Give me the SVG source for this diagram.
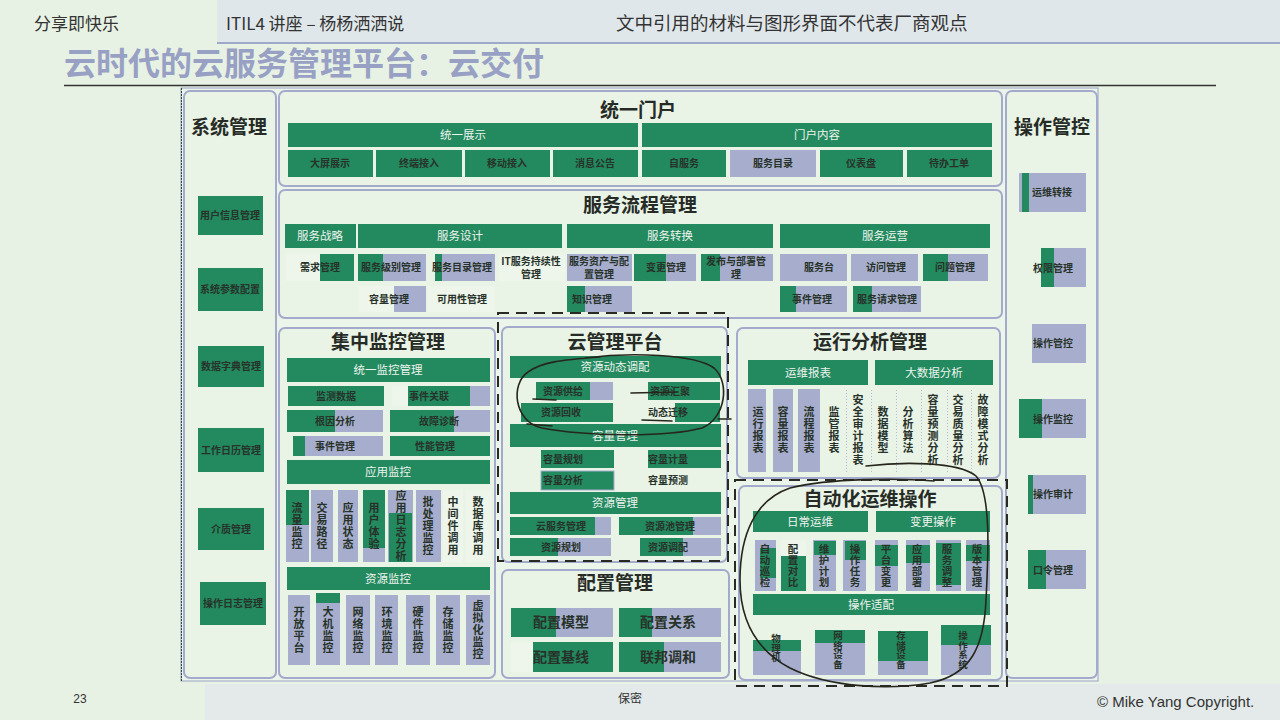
<svg xmlns="http://www.w3.org/2000/svg" width="1280" height="720" viewBox="0 0 1280 720">
<defs>
<style>
.g{fill:#23895e}
.b{fill:#a7aecd}
.l{fill:#eef6ec}
.pn{fill:#e9f3e6;stroke:#a3aacb;stroke-width:2}
.t{font-family:"Noto Sans CJK SC",sans-serif;font-weight:700;font-size:10px;fill:#27322a;text-anchor:middle}
.h{font-family:"Noto Sans CJK SC",sans-serif;font-size:11.5px;fill:#eef4ee;text-anchor:middle}
.pt{font-family:"Noto Sans CJK SC",sans-serif;font-weight:700;font-size:19px;fill:#262b26;text-anchor:middle}
.v{font-family:"Noto Sans CJK SC",sans-serif;font-weight:700;font-size:11px;letter-spacing:1px;fill:#27322a;text-anchor:middle;writing-mode:vertical-rl}
.vs{font-family:"Noto Sans CJK SC",sans-serif;font-weight:700;font-size:10.5px;letter-spacing:0.5px;fill:#27322a;text-anchor:middle;writing-mode:vertical-rl}
.vx{font-family:"Noto Sans CJK SC",sans-serif;font-weight:700;font-size:9.5px;fill:#27322a;text-anchor:middle;writing-mode:vertical-rl}
.c{font-family:"Noto Sans CJK SC",sans-serif;font-weight:700;font-size:14px;fill:#27322a;text-anchor:middle}
.dash{fill:none;stroke:#2a2a24;stroke-width:2;stroke-dasharray:11 7}
.ink{fill:none;stroke:#26261c;stroke-width:1.6;stroke-linecap:round;stroke-linejoin:round}
.sep{stroke:#b4bad6;stroke-width:1;stroke-dasharray:1 2}
</style>
</defs>

<!-- page -->
<rect width="1280" height="720" fill="#e8f2e4"/>
<rect x="217" y="0" width="1063" height="43" fill="#e0e7ea"/>
<line x1="217" y1="43" x2="1280" y2="43" stroke="#9ea8c8" stroke-width="2"/>
<rect x="205" y="684" width="1075" height="36" fill="#e3eae9"/>
<text x="34" y="30" font-family="Noto Sans CJK SC, sans-serif" font-size="17" fill="#333">分享即快乐</text>
<text x="226" y="30" font-family="Noto Sans CJK SC, sans-serif" font-size="17" fill="#333">ITIL4 讲座 – 杨杨洒洒说</text>
<text x="616" y="30" font-family="Noto Sans CJK SC, sans-serif" font-size="18.5" fill="#333">文中引用的材料与图形界面不代表厂商观点</text>
<text x="64" y="75" font-family="Noto Sans CJK SC, sans-serif" font-weight="700" font-size="32" fill="#98a1c4">云时代的云服务管理平台：云交付</text>
<line x1="64" y1="85.5" x2="1216" y2="85.5" stroke="#333" stroke-width="1.5"/>
<text x="80" y="703" font-family="Liberation Sans, sans-serif" font-size="12" fill="#333" text-anchor="middle">23</text>
<text x="630" y="703" font-family="Noto Sans CJK SC, sans-serif" font-size="12" fill="#333" text-anchor="middle">保密</text>
<text x="1097" y="707" font-family="Liberation Sans, sans-serif" font-size="15" fill="#333">© Mike Yang Copyright.</text>

<!-- outer frame -->
<rect x="181" y="88" width="917" height="593" fill="#ecf5ea" stroke="#9aa3c5" stroke-width="1"/>
<line x1="181.5" y1="88" x2="181.5" y2="681" stroke="#2f4a38" stroke-width="1" stroke-dasharray="2 1"/>

<!-- 系统管理 -->
<g id="sys-mgmt">
<rect class="pn" x="184" y="91" width="92" height="587" rx="6"/>
<text class="pt" x="229" y="134">系统管理</text>
<rect class="g" x="198" y="196" width="65" height="39"/><text class="t" x="230" y="219">用户信息管理</text>
<rect class="g" x="198" y="268" width="65" height="43"/><text class="t" x="230" y="293">系统参数配置</text>
<rect class="g" x="198" y="346" width="66" height="41"/><text class="t" x="231" y="370">数据字典管理</text>
<rect class="g" x="198" y="428" width="66" height="44"/><text class="t" x="231" y="454">工作日历管理</text>
<rect class="g" x="198" y="508" width="66" height="42"/><text class="t" x="231" y="533">介质管理</text>
<rect class="g" x="200" y="582" width="66" height="43"/><text class="t" x="233" y="607">操作日志管理</text>
</g>

<!-- 操作管控 -->
<g id="op-control">
<rect class="pn" x="1006" y="91" width="91" height="587" rx="6"/>
<text class="pt" x="1052" y="134">操作管控</text>
<rect class="b" x="1019" y="173" width="67" height="39"/><rect class="g" x="1022" y="173" width="7" height="39"/><text class="t" x="1052" y="196">运维转接</text>
<rect class="b" x="1041" y="248" width="45" height="39"/><rect class="g" x="1041" y="248" width="13" height="39"/><text class="t" x="1053" y="272">权限管理</text>
<rect class="b" x="1032" y="324" width="54" height="39"/><text class="t" x="1053" y="347">操作管控</text>
<rect class="b" x="1019" y="399" width="67" height="39"/><rect class="g" x="1019" y="399" width="23" height="39"/><text class="t" x="1053" y="423">操作监控</text>
<rect class="b" x="1028" y="475" width="58" height="39"/><rect class="g" x="1028" y="475" width="5" height="39"/><text class="t" x="1053" y="498">操作审计</text>
<rect class="b" x="1028" y="550" width="58" height="39"/><rect class="g" x="1028" y="550" width="18" height="39"/><text class="t" x="1053" y="574">口令管理</text>
</g>

<!-- 统一门户 -->
<g id="portal">
<rect class="pn" x="279" y="91" width="723" height="95" rx="6"/>
<text class="pt" x="638" y="117">统一门户</text>
<rect class="g" x="288" y="123" width="350" height="24"/><text class="h" x="463" y="139">统一展示</text>
<rect class="g" x="642" y="123" width="350" height="24"/><text class="h" x="817" y="139">门户内容</text>
<rect class="g" x="288" y="150" width="85" height="27"/><text class="t" x="330" y="167">大屏展示</text>
<rect class="g" x="376" y="150" width="86" height="27"/><text class="t" x="419" y="167">终端接入</text>
<rect class="g" x="465" y="150" width="85" height="27"/><text class="t" x="507" y="167">移动接入</text>
<rect class="g" x="553" y="150" width="85" height="27"/><text class="t" x="595" y="167">消息公告</text>
<rect class="g" x="642" y="150" width="84" height="27"/><text class="t" x="684" y="167">自服务</text>
<rect class="b" x="730" y="150" width="86" height="27"/><text class="t" x="773" y="167">服务目录</text>
<rect class="g" x="820" y="150" width="83" height="27"/><text class="t" x="861" y="167">仪表盘</text>
<rect class="g" x="907" y="150" width="85" height="27"/><text class="t" x="949" y="167">待办工单</text>
</g>

<!-- 服务流程管理 -->
<g id="service-process">
<rect class="pn" x="279" y="190" width="723" height="128" rx="6"/>
<text class="pt" x="640" y="212">服务流程管理</text>
<rect class="g" x="285" y="224" width="71" height="24"/><text class="h" x="320" y="240">服务战略</text>
<rect class="g" x="358" y="224" width="204" height="24"/><text class="h" x="460" y="240">服务设计</text>
<rect class="g" x="567" y="224" width="206" height="24"/><text class="h" x="670" y="240">服务转换</text>
<rect class="g" x="780" y="224" width="210" height="24"/><text class="h" x="885" y="240">服务运营</text>

<rect class="l" x="286" y="254" width="34" height="27"/><rect class="g" x="320" y="254" width="34" height="27"/><text class="t" x="320" y="271">需求管理</text>
<rect class="b" x="358" y="254" width="68" height="27"/><rect class="g" x="358" y="254" width="25" height="27"/><text class="t" x="391" y="271">服务级别管理</text>
<rect class="b" x="435" y="254" width="60" height="27"/><rect class="g" x="435" y="254" width="7" height="27"/><text class="t" x="462" y="271">服务目录管理</text>
<rect class="l" x="499" y="254" width="66" height="27"/><text class="t" x="531" y="265">IT服务持续性</text><text class="t" x="531" y="278">管理</text>
<rect class="b" x="567" y="254" width="65" height="27"/><text class="t" x="599" y="265">服务资产与配</text><text class="t" x="599" y="278">置管理</text>
<rect class="b" x="634" y="254" width="62" height="27"/><rect class="g" x="634" y="254" width="32" height="27"/><text class="t" x="666" y="271">变更管理</text>
<rect class="b" x="701" y="254" width="72" height="27"/><rect class="g" x="701" y="254" width="19" height="27"/><text class="t" x="736" y="265">发布与部署管</text><text class="t" x="736" y="278">理</text>
<rect class="b" x="780" y="254" width="67" height="27"/><text class="t" x="819" y="271">服务台</text>
<rect class="b" x="851" y="254" width="67" height="27"/><text class="t" x="886" y="271">访问管理</text>
<rect class="b" x="923" y="254" width="65" height="27"/><rect class="g" x="923" y="254" width="25" height="27"/><text class="t" x="955" y="271">问题管理</text>

<rect class="l" x="359" y="286" width="35" height="26"/><rect class="b" x="394" y="286" width="32" height="26"/><text class="t" x="389" y="303">容量管理</text>
<rect class="l" x="428" y="286" width="67" height="26"/><text class="t" x="462" y="303">可用性管理</text>
<rect class="b" x="567" y="286" width="65" height="26"/><rect class="g" x="567" y="286" width="18" height="26"/><text class="t" x="592" y="303">知识管理</text>
<rect class="b" x="780" y="286" width="67" height="26"/><rect class="g" x="780" y="286" width="16" height="26"/><text class="t" x="812" y="303">事件管理</text>
<rect class="b" x="853" y="286" width="68" height="26"/><rect class="g" x="853" y="286" width="19" height="26"/><text class="t" x="887" y="303">服务请求管理</text>
</g>

<!-- 集中监控管理 -->
<g id="monitoring">
<rect class="pn" x="279" y="328" width="216" height="350" rx="6"/>
<text class="pt" x="388" y="349">集中监控管理</text>
<rect class="g" x="287" y="358" width="203" height="24"/><text class="h" x="388" y="374">统一监控管理</text>
<rect class="g" x="288" y="386" width="96" height="20"/><text class="t" x="336" y="400">监测数据</text>
<rect class="l" x="392" y="386" width="16" height="20"/><rect class="g" x="408" y="386" width="62" height="20"/><rect class="b" x="470" y="386" width="20" height="20"/><text class="t" x="429" y="400">事件关联</text>
<rect class="b" x="287" y="410" width="96" height="22"/><rect class="g" x="287" y="410" width="48" height="22"/><text class="t" x="335" y="425">根因分析</text>
<rect class="b" x="390" y="410" width="100" height="22"/><rect class="g" x="390" y="410" width="64" height="22"/><text class="t" x="439" y="425">故障诊断</text>
<rect class="b" x="293" y="436" width="90" height="20"/><rect class="g" x="293" y="436" width="12" height="20"/><text class="t" x="335" y="450">事件管理</text>
<rect class="g" x="390" y="436" width="100" height="20"/><text class="t" x="435" y="450">性能管理</text>
<rect class="g" x="287" y="460" width="203" height="24"/><text class="h" x="388" y="476">应用监控</text>

<rect class="b" x="286" y="490" width="23" height="72"/><rect class="g" x="286" y="490" width="23" height="35"/><text class="v" x="297" y="526">流量监控</text>
<rect class="b" x="311" y="490" width="22" height="72"/><text class="v" x="322" y="526">交易路径</text>
<rect class="b" x="338" y="490" width="20" height="72"/><text class="v" x="348" y="526">应用状态</text>
<rect class="b" x="363" y="490" width="22" height="72"/><rect class="g" x="363" y="490" width="22" height="58"/><text class="v" x="374" y="526">用户体验</text>
<rect class="b" x="388" y="490" width="25" height="72"/><rect class="g" x="389" y="513" width="23" height="49"/><text class="v" x="401" y="526">应用日志分析</text>
<rect class="b" x="416" y="490" width="25" height="72"/><text class="v" x="428" y="526">批处理监控</text>
<rect class="l" x="443" y="490" width="20" height="72"/><text class="v" x="453" y="526">中间件调用</text>
<rect class="l" x="466" y="490" width="25" height="72"/><text class="v" x="478" y="526">数据库调用</text>

<rect class="g" x="287" y="567" width="203" height="23"/><text class="h" x="388" y="583">资源监控</text>
<rect class="b" x="288" y="595" width="22" height="70"/><text class="v" x="299" y="630">开放平台</text>
<rect class="b" x="316" y="595" width="24" height="70"/><rect class="g" x="316" y="593" width="24" height="10"/><text class="v" x="328" y="630">大机监控</text>
<rect class="b" x="346" y="595" width="24" height="70"/><text class="v" x="358" y="630">网络监控</text>
<rect class="b" x="375" y="595" width="23" height="70"/><text class="v" x="387" y="630">环境监控</text>
<rect class="b" x="406" y="595" width="24" height="70"/><text class="v" x="418" y="630">硬件监控</text>
<rect class="b" x="436" y="595" width="24" height="70"/><text class="v" x="448" y="630">存储监控</text>
<rect class="b" x="466" y="595" width="24" height="70"/><text class="v" x="478" y="630">虚拟化监控</text>
</g>

<!-- 云管理平台 -->
<g id="cloud-platform">
<rect class="pn" x="502" y="327" width="225" height="235" rx="6"/>
<text class="pt" x="615" y="349">云管理平台</text>
<rect class="g" x="510" y="356" width="211" height="22"/><text class="h" x="615" y="371">资源动态调配</text>
<rect class="b" x="536" y="382" width="77" height="18"/><rect class="g" x="536" y="382" width="54" height="18"/><text class="t" x="563" y="395">资源供给</text>
<rect class="g" x="648" y="382" width="72" height="18"/><text class="t" x="670" y="395">资源汇聚</text>
<rect class="g" x="521" y="403" width="92" height="19"/><text class="t" x="561" y="416">资源回收</text>
<rect class="g" x="675" y="403" width="45" height="19"/><text class="t" x="668" y="416">动态迁移</text>
<rect class="g" x="510" y="424" width="211" height="23"/><text class="h" x="615" y="440">容量管理</text>
<rect class="g" x="541" y="450" width="73" height="18"/><text class="t" x="563" y="463">容量规划</text>
<rect class="g" x="648" y="450" width="73" height="18"/><text class="t" x="668" y="463">容量计量</text>
<rect class="g" x="541" y="471" width="73" height="19" stroke="#a7aecd" stroke-width="1"/><text class="t" x="563" y="484">容量分析</text>
<text class="t" x="668" y="484">容量预测</text>
<rect class="g" x="510" y="492" width="211" height="22"/><text class="h" x="615" y="507">资源管理</text>
<rect class="b" x="510" y="517" width="101" height="18"/><rect class="g" x="510" y="517" width="85" height="18"/><text class="t" x="561" y="530">云服务管理</text>
<rect class="b" x="619" y="517" width="102" height="18"/><rect class="g" x="619" y="517" width="74" height="18"/><text class="t" x="670" y="530">资源池管理</text>
<rect class="b" x="510" y="538" width="101" height="18"/><rect class="g" x="510" y="538" width="48" height="18"/><text class="t" x="561" y="551">资源规划</text>
<rect class="b" x="640" y="538" width="81" height="18"/><rect class="g" x="640" y="538" width="43" height="18"/><text class="t" x="668" y="551">资源调配</text>
</g>

<!-- 配置管理 -->
<g id="config-mgmt">
<rect class="pn" x="502" y="570" width="227" height="108" rx="6"/>
<text class="pt" x="615" y="590">配置管理</text>
<rect class="b" x="511" y="608" width="102" height="29"/><rect class="g" x="511" y="608" width="45" height="29"/><text class="c" x="561" y="627">配置模型</text>
<rect class="b" x="619" y="608" width="102" height="29"/><rect class="g" x="619" y="608" width="33" height="29"/><text class="c" x="668" y="627">配置关系</text>
<rect class="l" x="511" y="642" width="22" height="30"/><rect class="g" x="533" y="642" width="80" height="30"/><text class="c" x="561" y="662">配置基线</text>
<rect class="b" x="619" y="642" width="102" height="30"/><rect class="g" x="619" y="642" width="45" height="30"/><text class="c" x="668" y="662">联邦调和</text>
</g>

<!-- 运行分析管理 -->
<g id="run-analysis">
<rect class="pn" x="737" y="328" width="263" height="150" rx="6"/>
<text class="pt" x="870" y="349">运行分析管理</text>
<rect class="g" x="748" y="360" width="120" height="25"/><text class="h" x="808" y="377">运维报表</text>
<rect class="g" x="875" y="360" width="118" height="25"/><text class="h" x="934" y="377">大数据分析</text>
<rect class="b" x="748" y="389" width="18" height="83"/>
<rect class="b" x="773" y="389" width="20" height="83"/>
<rect class="b" x="798" y="389" width="22" height="83"/>
<line class="sep" x1="846.5" y1="390" x2="846.5" y2="472"/>
<line class="sep" x1="871.5" y1="390" x2="871.5" y2="472"/>
<line class="sep" x1="896.5" y1="390" x2="896.5" y2="472"/>
<line class="sep" x1="921.5" y1="390" x2="921.5" y2="472"/>
<line class="sep" x1="947.5" y1="390" x2="947.5" y2="472"/>
<line class="sep" x1="971.5" y1="390" x2="971.5" y2="472"/>
<text class="v" x="758" y="430">运行报表</text>
<text class="v" x="783" y="430">容量报表</text>
<text class="v" x="809" y="430">流程报表</text>
<text class="v" x="834" y="430">监管报表</text>
<text class="v" x="858" y="430">安全审计报表</text>
<text class="v" x="883" y="430">数据模型</text>
<text class="v" x="908" y="430">分析算法</text>
<text class="v" x="933" y="430">容量预测分析</text>
<text class="v" x="958" y="430">交易质量分析</text>
<text class="v" x="983" y="430">故障模式分析</text>
</g>

<!-- 自动化运维操作 -->
<g id="automation">
<rect class="pn" x="739" y="486" width="263" height="194" rx="6"/>
<text class="pt" x="870" y="506">自动化运维操作</text>
<rect class="g" x="753" y="511" width="115" height="21"/><text class="h" x="810" y="526">日常运维</text>
<rect class="g" x="876" y="511" width="114" height="21"/><text class="h" x="933" y="526">变更操作</text>
<rect class="b" x="755" y="540" width="21" height="51"/><rect class="g" x="760" y="548" width="16" height="30"/><text class="vs" x="765" y="566">自动巡检</text>
<rect class="l" x="781" y="540" width="25" height="16"/><rect class="g" x="781" y="556" width="25" height="35"/><text class="vs" x="793" y="566">配置对比</text>
<rect class="b" x="813" y="540" width="23" height="51"/><rect class="g" x="814" y="541" width="22" height="14"/><text class="vs" x="824" y="566">维护计划</text>
<rect class="b" x="843" y="540" width="23" height="51"/><rect class="g" x="845" y="541" width="21" height="19"/><text class="vs" x="855" y="566">操作任务</text>
<rect class="b" x="875" y="540" width="23" height="51"/><rect class="g" x="875" y="545" width="23" height="21"/><text class="vs" x="886" y="566">平台变更</text>
<rect class="b" x="906" y="540" width="24" height="51"/><rect class="g" x="906" y="545" width="24" height="18"/><text class="vs" x="917" y="566">应用部署</text>
<rect class="b" x="936" y="540" width="25" height="51"/><rect class="g" x="936" y="543" width="25" height="42"/><text class="vs" x="947" y="566">服务调整</text>
<rect class="b" x="966" y="540" width="24" height="51"/><rect class="g" x="966" y="545" width="24" height="16"/><text class="vs" x="977" y="566">版本管理</text>
<rect class="g" x="753" y="594" width="237" height="21"/><text class="h" x="871" y="609">操作适配</text>
<rect class="b" x="753" y="651" width="48" height="24"/><rect class="g" x="753" y="640" width="48" height="11"/><text class="vx" x="776" y="648">物理机</text>
<rect class="b" x="815" y="630" width="50" height="45"/><rect class="g" x="815" y="630" width="50" height="13"/><text class="vx" x="838" y="650">网络设备</text>
<rect class="b" x="878" y="631" width="50" height="44"/><rect class="g" x="878" y="631" width="50" height="30"/><text class="vx" x="901" y="650">存储设备</text>
<rect class="b" x="941" y="625" width="50" height="50"/><rect class="g" x="941" y="625" width="50" height="20"/><text class="vx" x="963" y="650">操作系统</text>
</g>

<!-- dashed groupings and hand-drawn annotations -->
<g id="connectors">
<rect class="dash" x="498" y="313" width="230" height="248"/>
<rect class="dash" x="735" y="480" width="272" height="206"/>
<path class="ink" d="M585,358 C630,352 695,354 714,368 C730,382 726,418 702,428 C664,438 584,436 542,428 C514,422 510,384 528,372 C542,362 560,360 600,357"/>
<path class="ink" d="M533,399 L556,400 M631,393 L678,392 M642,420 L672,421 M718,419 L731,419 M527,424 L552,426"/>
<path class="ink" d="M866,466 C900,462 958,461 976,476 C992,494 988,560 986,600 C984,648 970,675 930,683 C890,690 830,688 790,668 C756,650 740,620 740,580 C740,535 755,500 790,488 C830,478 900,478 934,481"/>
</g>
</svg>
